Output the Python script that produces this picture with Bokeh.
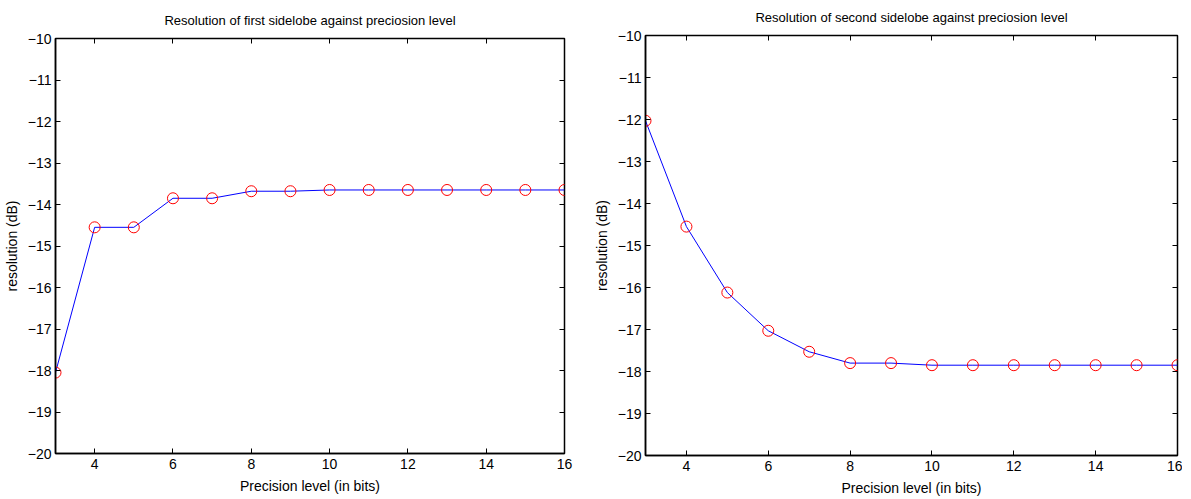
from bokeh.plotting import figure
from bokeh.layouts import row
from bokeh.models import LinearAxis, FixedTicker, Range1d, CustomLabelingPolicy
from bokeh.embed import file_html
from bokeh.resources import INLINE

bits = [3, 4, 5, 6, 7, 8, 9, 10, 11, 12, 13, 14, 15, 16]
first_sidelobe = [-18.05, -14.55, -14.55, -13.85, -13.85, -13.68, -13.68,
                  -13.65, -13.65, -13.65, -13.65, -13.65, -13.65, -13.65]
second_sidelobe = [-12.03, -14.55, -16.12, -17.03, -17.53, -17.8, -17.8,
                   -17.85, -17.85, -17.85, -17.85, -17.85, -17.85, -17.85]
x_ticks = [4, 6, 8, 10, 12, 14, 16]
y_ticks = [-20, -19, -18, -17, -16, -15, -14, -13, -12, -11, -10]

titles = ["Resolution of first sidelobe against preciosion level",
          "Resolution of second sidelobe against preciosion level"]
FONT = "Liberation Sans"

hide_all = CustomLabelingPolicy(code="""
for (const i of indices) { indices.unset(i) }
return indices
""")


def make(title, ys, fw, fh, bl, br, bt, bb, title_standoff, top_margin):
    p = figure(frame_width=fw, frame_height=fh, output_backend="svg", toolbar_location=None,
               x_range=Range1d(3, 16), y_range=Range1d(-20, -10),
               min_border_left=bl, min_border_right=br, min_border_top=bt, min_border_bottom=bb,
               title=title, margin=(top_margin, 0, 0, 0))
    p.title.align = "center"
    p.title.text_font = FONT
    p.title.text_font_size = "13px"
    p.title.text_font_style = "normal"
    p.title.text_color = "black"
    p.title.standoff = title_standoff
    p.grid.visible = False
    p.outline_line_color = "black"
    p.outline_line_width = 1.5
    p.background_fill_color = "white"
    p.border_fill_color = "white"

    for ax in [p.xaxis[0], p.yaxis[0]]:
        ax.major_tick_in = 5
        ax.major_tick_out = 0
        ax.minor_tick_line_color = None
        ax.axis_line_width = 1.5
        ax.major_label_text_font = FONT
        ax.major_label_text_font_size = "14px"
        ax.major_label_text_color = "black"
        ax.axis_label_text_font = FONT
        ax.axis_label_text_font_size = "14px"
        ax.axis_label_text_font_style = "normal"
        ax.axis_label_text_color = "black"
    p.xaxis[0].ticker = FixedTicker(ticks=x_ticks)
    p.yaxis[0].ticker = FixedTicker(ticks=y_ticks)
    p.xaxis[0].axis_label = "Precision level (in bits)"
    p.yaxis[0].axis_label = "resolution (dB)"
    p.xaxis[0].axis_label_standoff = 6
    p.yaxis[0].axis_label_standoff = 5
    p.xaxis[0].major_label_standoff = 5
    p.yaxis[0].major_label_standoff = 4

    for side, ticks in [("above", x_ticks), ("right", y_ticks)]:
        ax = LinearAxis(ticker=FixedTicker(ticks=ticks), major_label_policy=hide_all)
        ax.major_tick_in = 5
        ax.major_tick_out = 0
        ax.minor_tick_line_color = None
        ax.axis_line_color = None
        ax.major_label_standoff = 0
        ax.major_label_text_font_size = "1px"
        p.add_layout(ax, side)

    p.line(bits, ys, line_color="blue", line_width=1)
    p.scatter(bits, ys, marker="circle", size=11, fill_color=None,
              line_color="red", line_width=1)
    return p


p1 = make(titles[0], first_sidelobe, 509, 415, 50, 26, 30, 36, 13, 4)
p2 = make(titles[1], second_sidelobe, 532, 420, 46, 5, 27, 34, 13, 1)

layout = row(p1, p2)
open("out.html", "w").write(file_html(layout, INLINE))
